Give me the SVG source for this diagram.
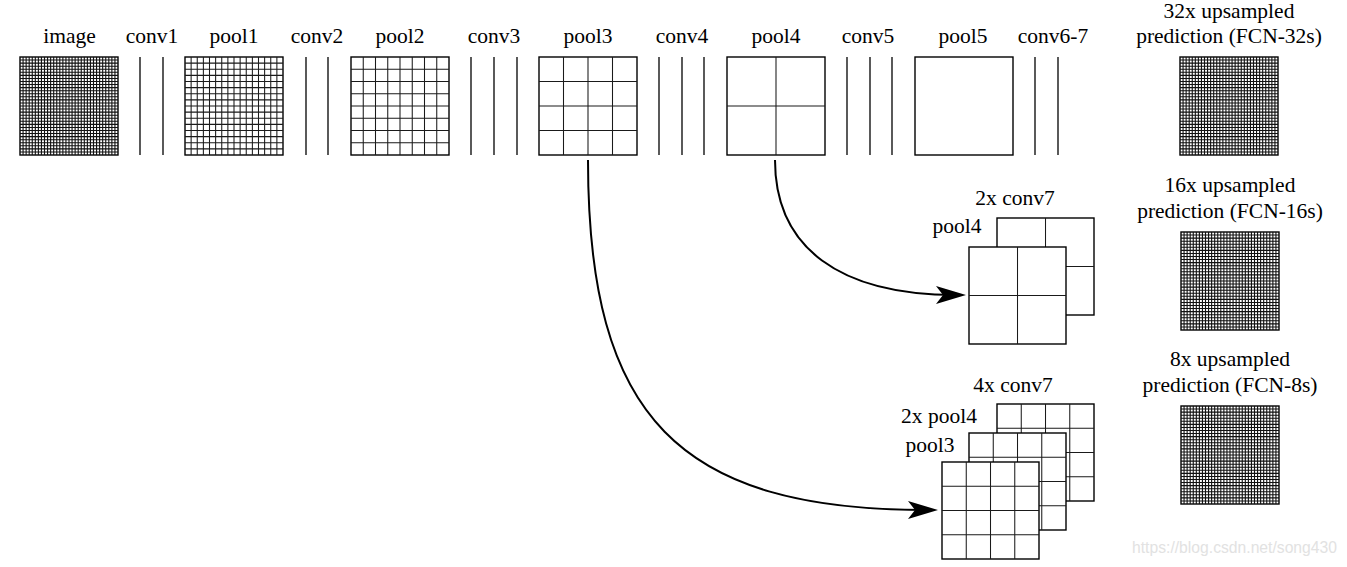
<svg xmlns="http://www.w3.org/2000/svg" xmlns:xlink="http://www.w3.org/1999/xlink" width="1347" height="567" viewBox="0 0 1347 567">
<style>
.box{fill:#fff;stroke:#000;stroke-width:1.4}
.grid{fill:none;stroke:#1a1a1a;stroke-width:1.05}
.dense{fill:none;stroke:#111;stroke-width:1.1}
.conv{stroke:#000;stroke-width:1.3}
.lbl{font-size:21.5px;text-anchor:middle;fill:#000}
.arrow{fill:none;stroke:#000;stroke-width:2}
.wm{font-size:15.7px;text-anchor:end;fill:#e2e2e2}
</style>
<defs>
<path id="grid32" class="dense" d="M3.0625,0v98m3.0625,-98v98m3.0625,-98v98m3.0625,-98v98m3.0625,-98v98m3.0625,-98v98m3.0625,-98v98m3.0625,-98v98m3.0625,-98v98m3.0625,-98v98m3.0625,-98v98m3.0625,-98v98m3.0625,-98v98m3.0625,-98v98m3.0625,-98v98m3.0625,-98v98m3.0625,-98v98m3.0625,-98v98m3.0625,-98v98m3.0625,-98v98m3.0625,-98v98m3.0625,-98v98m3.0625,-98v98m3.0625,-98v98m3.0625,-98v98m3.0625,-98v98m3.0625,-98v98m3.0625,-98v98m3.0625,-98v98m3.0625,-98v98m3.0625,-98v98M0,3.0625h98m-98,3.0625h98m-98,3.0625h98m-98,3.0625h98m-98,3.0625h98m-98,3.0625h98m-98,3.0625h98m-98,3.0625h98m-98,3.0625h98m-98,3.0625h98m-98,3.0625h98m-98,3.0625h98m-98,3.0625h98m-98,3.0625h98m-98,3.0625h98m-98,3.0625h98m-98,3.0625h98m-98,3.0625h98m-98,3.0625h98m-98,3.0625h98m-98,3.0625h98m-98,3.0625h98m-98,3.0625h98m-98,3.0625h98m-98,3.0625h98m-98,3.0625h98m-98,3.0625h98m-98,3.0625h98m-98,3.0625h98m-98,3.0625h98m-98,3.0625h98"/>
<path id="grid16" class="grid" d="M6.125,0v98m6.125,-98v98m6.125,-98v98m6.125,-98v98m6.125,-98v98m6.125,-98v98m6.125,-98v98m6.125,-98v98m6.125,-98v98m6.125,-98v98m6.125,-98v98m6.125,-98v98m6.125,-98v98m6.125,-98v98m6.125,-98v98M0,6.125h98m-98,6.125h98m-98,6.125h98m-98,6.125h98m-98,6.125h98m-98,6.125h98m-98,6.125h98m-98,6.125h98m-98,6.125h98m-98,6.125h98m-98,6.125h98m-98,6.125h98m-98,6.125h98m-98,6.125h98m-98,6.125h98"/>
<path id="grid8" class="grid" d="M12.25,0v98m12.25,-98v98m12.25,-98v98m12.25,-98v98m12.25,-98v98m12.25,-98v98m12.25,-98v98M0,12.25h98m-98,12.25h98m-98,12.25h98m-98,12.25h98m-98,12.25h98m-98,12.25h98m-98,12.25h98"/>
<path id="grid4" class="grid" d="M24.5,0V98M49,0V98M73.5,0V98M0,24.5H98M0,49H98M0,73.5H98"/>
<path id="grid2" class="grid" d="M49,0V98M0,49H98"/>
<marker id="stealth" markerUnits="userSpaceOnUse" viewBox="-22 -11 34 22" markerWidth="34" markerHeight="22" refX="0" refY="0" orient="auto">
<path d="M10,0 L-20,-9 L-13,0 L-20,9 Z" fill="#000"/>
</marker>
</defs>

<g id="labels" font-family="'Liberation Serif', 'DejaVu Serif', serif">
<text class="lbl" x="69.5" y="43">image</text>
<text class="lbl" x="152" y="43">conv1</text>
<text class="lbl" x="234" y="43">pool1</text>
<text class="lbl" x="317" y="43">conv2</text>
<text class="lbl" x="400" y="43">pool2</text>
<text class="lbl" x="494" y="43">conv3</text>
<text class="lbl" x="588" y="43">pool3</text>
<text class="lbl" x="682" y="43">conv4</text>
<text class="lbl" x="776" y="43">pool4</text>
<text class="lbl" x="868" y="43">conv5</text>
<text class="lbl" x="963" y="43">pool5</text>
<text class="lbl" x="1053" y="43">conv6-7</text>
</g>

<g id="image" transform="translate(20,57)"><rect class="box" width="98" height="98"/><use xlink:href="#grid32"/></g>
<g id="conv1"><line class="conv" x1="140" y1="57" x2="140" y2="155"/><line class="conv" x1="163" y1="57" x2="163" y2="155"/></g>
<g id="pool1" transform="translate(185,57)"><rect class="box" width="98" height="98"/><use xlink:href="#grid16"/></g>
<g id="conv2"><line class="conv" x1="306" y1="57" x2="306" y2="155"/><line class="conv" x1="328" y1="57" x2="328" y2="155"/></g>
<g id="pool2" transform="translate(351,57)"><rect class="box" width="98" height="98"/><use xlink:href="#grid8"/></g>
<g id="conv3"><line class="conv" x1="471" y1="57" x2="471" y2="155"/><line class="conv" x1="494" y1="57" x2="494" y2="155"/><line class="conv" x1="517" y1="57" x2="517" y2="155"/></g>
<g id="pool3" transform="translate(539,57)"><rect class="box" width="98" height="98"/><use xlink:href="#grid4"/></g>
<g id="conv4"><line class="conv" x1="659" y1="57" x2="659" y2="155"/><line class="conv" x1="682" y1="57" x2="682" y2="155"/><line class="conv" x1="704" y1="57" x2="704" y2="155"/></g>
<g id="pool4" transform="translate(727,57)"><rect class="box" width="98" height="98"/><use xlink:href="#grid2"/></g>
<g id="conv5"><line class="conv" x1="847" y1="57" x2="847" y2="155"/><line class="conv" x1="870" y1="57" x2="870" y2="155"/><line class="conv" x1="892" y1="57" x2="892" y2="155"/></g>
<g id="pool5" transform="translate(915,57)"><rect class="box" width="98" height="98"/></g>
<g id="conv6-7"><line class="conv" x1="1035" y1="57" x2="1035" y2="155"/><line class="conv" x1="1058" y1="57" x2="1058" y2="155"/></g>

<g id="fcn32" font-family="'Liberation Serif', 'DejaVu Serif', serif">
<text class="lbl" x="1229" y="18">32x upsampled</text>
<text class="lbl" x="1229" y="43">prediction (FCN-32s)</text>
<g transform="translate(1180,57)"><rect class="box" width="98" height="98"/><use xlink:href="#grid32"/></g>
</g>

<g id="fcn16" font-family="'Liberation Serif', 'DejaVu Serif', serif">
<text class="lbl" x="1230" y="192">16x upsampled</text>
<text class="lbl" x="1230" y="218">prediction (FCN-16s)</text>
<g transform="translate(1181,232)"><rect class="box" width="98" height="98"/><use xlink:href="#grid32"/></g>
</g>

<g id="fcn8" font-family="'Liberation Serif', 'DejaVu Serif', serif">
<text class="lbl" x="1230" y="366">8x upsampled</text>
<text class="lbl" x="1230" y="392">prediction (FCN-8s)</text>
<g transform="translate(1181,406)"><rect class="box" width="98" height="98"/><use xlink:href="#grid32"/></g>
</g>

<g id="stack16" font-family="'Liberation Serif', 'DejaVu Serif', serif">
<text class="lbl" x="1015" y="205">2x conv7</text>
<text class="lbl" x="957" y="233">pool4</text>
<g transform="translate(997,218)"><rect class="box" width="97" height="97"/><use xlink:href="#grid2" transform="scale(0.99)"/></g>
<g transform="translate(969,247)"><rect class="box" width="97" height="97"/><use xlink:href="#grid2" transform="scale(0.99)"/></g>
</g>

<g id="stack8" font-family="'Liberation Serif', 'DejaVu Serif', serif">
<text class="lbl" x="1013" y="392">4x conv7</text>
<text class="lbl" x="939" y="423">2x pool4</text>
<text class="lbl" x="930" y="452">pool3</text>
<g transform="translate(997,404)"><rect class="box" width="97" height="97"/><use xlink:href="#grid4" transform="scale(0.99)"/></g>
<g transform="translate(969,433)"><rect class="box" width="97" height="97"/><use xlink:href="#grid4" transform="scale(0.99)"/></g>
<g transform="translate(942,462)"><rect class="box" width="97" height="97"/><use xlink:href="#grid4" transform="scale(0.99)"/></g>
</g>

<g id="connectors">
<path class="arrow" d="M775,160 C775,248 840,295 956,295" marker-end="url(#stealth)"/>
<path class="arrow" d="M588,160 C588,418 679,510 928,510" marker-end="url(#stealth)"/>
</g>

<text class="wm" x="1337" y="553" font-family="'Liberation Sans', Arial, sans-serif">https://blog.csdn.net/song430</text>
</svg>
